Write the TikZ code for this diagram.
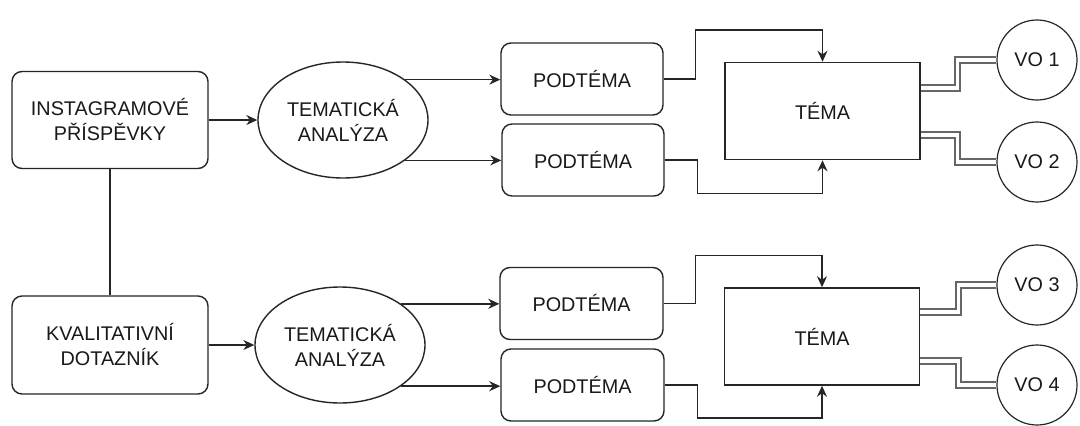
\documentclass[tikz,border=0pt]{standalone}
\usepackage{fontspec}
\setmainfont{Liberation Sans}
\usetikzlibrary{shapes.geometric,arrows.meta}
\begin{document}
\begin{tikzpicture}[x=1pt,y=-1pt,
  every node/.style={font=\fontsize{19.8}{25}\selectfont, align=center, text=black!90, inner sep=0pt},
  rbox/.style={draw=black!85, line width=1.4pt, rounded corners=10pt, minimum width=#1, minimum height=72pt},
  ell/.style={ellipse, draw=black!85, line width=1.4pt, minimum width=170pt, minimum height=116pt},
  tbox/.style={draw=black!85, line width=1.5pt, minimum width=195pt, minimum height=97pt},
  vo/.style={circle, draw=black!85, line width=1.2pt, minimum size=80pt},
  conn/.style={draw=black!85, line width=1.5pt},
  arr/.style={conn, -{Stealth[length=11pt,width=10pt]}},
  dbl/.style={draw=black!60, line width=2pt, double=white, double distance=3.4pt}
]
\useasboundingbox (0,0) rectangle (1080,426);
\fill[white] (0,0) rectangle (1080,426);

\node[rbox=196pt, minimum height=97pt] (inst) at (110,120) {INSTAGRAMOVÉ\\PŘÍSPĚVKY};
\node[rbox=196pt, minimum height=98pt] (kval) at (110,345) {KVALITATIVNÍ\\DOTAZNÍK};
\node[ell] (e1) at (343,120) {TEMATICKÁ\\ANALÝZA};
\node[ell] (e2) at (340,345) {TEMATICKÁ\\ANALÝZA};

\node[rbox=162pt] (p1) at (582,79) {PODTÉMA};
\node[rbox=162pt] (p2) at (583,160) {PODTÉMA};
\node[rbox=163pt] (p3) at (581.5,303.5) {PODTÉMA};
\node[rbox=163pt] (p4) at (582.5,385) {PODTÉMA};

\node[tbox] (t1) at (822.5,111) {TÉMA};
\node[tbox] (t2) at (822,336.5) {TÉMA};

\node[vo] (v1) at (1037,60) {VO 1};
\node[vo] (v2) at (1037,162) {VO 2};
\node[vo] (v3) at (1037,285) {VO 3};
\node[vo] (v4) at (1037,385) {VO 4};

\draw[arr] (inst.east) -- (e1.west);
\draw[conn] (inst.south) -- (kval.north);
\draw[arr] (kval.east) -- (e2.west);

\draw[arr] (e1.33) -- (e1.33 -| p1.west);
\draw[arr] (e1.-33) -- (e1.-33 -| p2.west);
\draw[arr] (e2.34) -- (e2.34 -| p3.west);
\draw[arr] (e2.-34) -- (e2.-34 -| p4.west);

\draw[arr] (p1.east) -- ++(32,0) |- ([yshift=32pt]t1.north) -- (t1.north);
\draw[arr] (p2.east) -- ++(33,0) |- ([yshift=-33pt]t1.south) -- (t1.south);
\draw[arr] (p3.east) -- ++(32,0) |- ([yshift=32pt]t2.north) -- (t2.north);
\draw[arr] (p4.east) -- ++(33,0) |- ([yshift=-32pt]t2.south) -- (t2.south);

\draw[dbl] ([yshift=23pt]t1.east) -- ++(37,0) |- (v1.west);
\draw[dbl] ([yshift=-24pt]t1.east) -- ++(37,0) |- (v2.west);
\draw[dbl] ([yshift=24.5pt]t2.east) -- ++(38,0) |- (v3.west);
\draw[dbl] ([yshift=-24.5pt]t2.east) -- ++(38,0) |- (v4.west);
\end{tikzpicture}
\end{document}
